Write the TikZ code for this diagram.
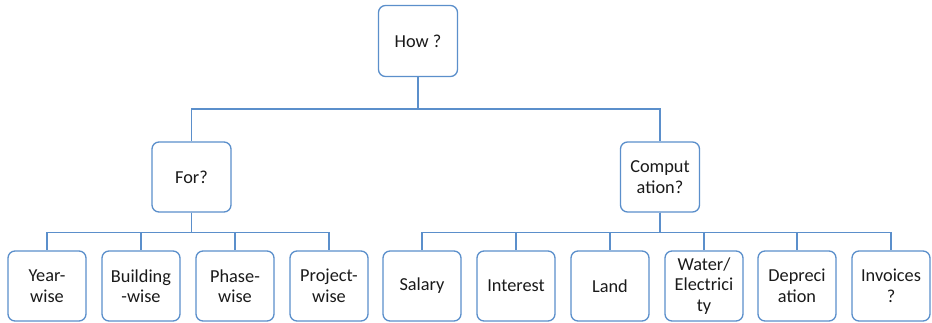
\documentclass[tikz,border=0pt]{standalone}
\usepackage{fontspec}
\setmainfont{Carlito}
\definecolor{boxblue}{HTML}{5B8FCB}
\definecolor{txt}{HTML}{1A1A1A}
\begin{document}
\begin{tikzpicture}[x=1pt,y=-1pt,
  box/.style={draw=boxblue,line width=1.3pt,rounded corners=7pt,fill=white,
    minimum width=78pt,minimum height=70pt,inner sep=0pt,align=center,
    font=\fontsize{18.3}{20.5}\selectfont,text=txt},
  bigbox/.style={box,minimum width=79pt},
  link/.style={draw=boxblue,line width=1.3pt}]
\useasboundingbox (0,0) rectangle (932,322);
\node[bigbox,minimum height=71pt] (how) at (418,41) {How ?};
\node[bigbox] (for) at (191.5,177) {For?};
\node[bigbox] (comp) at (660,177) {Comput\\ation?};
\coordinate (top) at (418,109);
\node[box] (b1) at (47,286) {Year-\\wise};
\node[box] (b2) at (141,286) {Building\\-wise};
\node[box] (b3) at (235,286) {Phase-\\wise};
\node[box] (b4) at (329,286) {Project-\\wise};
\node[box] (c1) at (422,286) {Salary};
\node[box] (c2) at (516,286) {Interest};
\node[box] (c3) at (610,286) {Land};
\node[box] (c4) at (704,286) {Water/\\Electrici\\ty};
\node[box] (c5) at (797,286) {Depreci\\ation};
\node[box] (c6) at (891,286) {Invoices\\?};
\path[link] (how.south) -- (top);
\path[link] (for.north) |- (top) -| (comp.north);
\foreach \n in {b1,b2,b3,b4}
  \path[link] (for.south) -- ++(0,20) -| (\n.north);
\foreach \n in {c1,c2,c3,c4,c5,c6}
  \path[link] (comp.south) -- ++(0,20) -| (\n.north);
\end{tikzpicture}
\end{document}
